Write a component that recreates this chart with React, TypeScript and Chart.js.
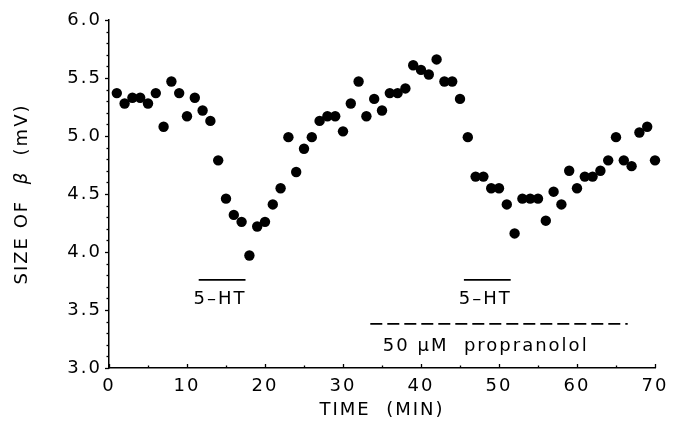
import React, { useEffect, useRef } from 'react';
import { Chart, registerables } from 'chart.js';

Chart.register(...registerables);

// ---- data ----
const minutes = [
  1, 2, 3, 4, 5, 6, 7, 8, 9, 10,
  11, 12, 13, 14, 15, 16, 17, 18, 19, 20,
  21, 22, 23, 24, 25, 26, 27, 28, 29, 30,
  31, 32, 33, 34, 35, 36, 37, 38, 39, 40,
  41, 42, 43, 44, 45, 46, 47, 48, 49, 50,
  51, 52, 53, 54, 55, 56, 57, 58, 59, 60,
  61, 62, 63, 64, 65, 66, 67, 68, 69, 70,
];
const betaSize = [
  5.37, 5.28, 5.33, 5.33, 5.28, 5.37, 5.08, 5.47, 5.37, 5.17,
  5.33, 5.22, 5.13, 4.79, 4.46, 4.32, 4.26, 3.97, 4.22, 4.26,
  4.41, 4.55, 4.99, 4.69, 4.89, 4.99, 5.13, 5.17, 5.17, 5.04,
  5.28, 5.47, 5.17, 5.32, 5.22, 5.37, 5.37, 5.41, 5.61, 5.57,
  5.53, 5.66, 5.47, 5.47, 5.32, 4.99, 4.65, 4.65, 4.55, 4.55,
  4.41, 4.16, 4.46, 4.46, 4.46, 4.27, 4.52, 4.41, 4.70, 4.55,
  4.65, 4.65, 4.70, 4.79, 4.99, 4.79, 4.74, 5.03, 5.08, 4.79,
];

const xTicks = [0, 10, 20, 30, 40, 50, 60, 70];
const yTicks = [3.0, 3.5, 4.0, 4.5, 5.0, 5.5, 6.0];

// application periods (minutes) and annotation levels (mV)
const htPeriods = [
  [11.5, 17.5],
  [45.5, 51.5],
];
const htBarLevel = 3.76;
const htLabelLevel = 3.59;
const htLabel = '5–HT';
const propranololPeriod = [33.5, 66.5];
const propranololLevel = 3.38;
const propranololLabelLevel = 3.19;
const propranololLabelAt = 48.3;
const propranololLabel = '50 μM  propranolol';

const xTitle = 'TIME  (MIN)';
const yTitleParts = [
  { text: 'SIZE OF  ', italic: false },
  { text: 'β', italic: true },
  { text: '  (mV)', italic: false },
];

const FONT_FAMILY = '"DejaVu Sans", sans-serif';
const FONT_SIZE = 18;
const LETTER_SPACING = '2px';

const decorPlugin = {
  id: 'decor',
  beforeDraw(chart: any) {
    chart.ctx.letterSpacing = LETTER_SPACING;
  },
  afterDraw(chart: any) {
    const { ctx, chartArea } = chart;
    const xs = chart.scales.x;
    const ys = chart.scales.y;
    ctx.save();
    ctx.letterSpacing = LETTER_SPACING;
    ctx.strokeStyle = '#000';
    ctx.fillStyle = '#000';
    ctx.lineWidth = 1.3;

    // y minor/major ticks (outward)
    for (let i = 0; i <= 30; i++) {
      const v = 3 + i * 0.1;
      const py = Math.round(ys.getPixelForValue(v)) + 0.5;
      const len = i % 5 === 0 ? 4 : 2.5;
      ctx.beginPath();
      ctx.moveTo(chartArea.left - len, py);
      ctx.lineTo(chartArea.left, py);
      ctx.stroke();
    }
    // x ticks (inward)
    for (let t = 0; t <= 70; t += 5) {
      const px = Math.round(xs.getPixelForValue(t)) + 0.5;
      const len = t % 10 === 0 ? 4 : 2.5;
      ctx.beginPath();
      ctx.moveTo(px, chartArea.bottom);
      ctx.lineTo(px, chartArea.bottom - len);
      ctx.stroke();
    }

    // 5-HT bars and labels
    ctx.lineWidth = 1.6;
    ctx.font = `${FONT_SIZE}px ${FONT_FAMILY}`;
    ctx.textAlign = 'center';
    ctx.textBaseline = 'middle';
    for (const [a, b] of htPeriods) {
      const py = ys.getPixelForValue(htBarLevel);
      ctx.beginPath();
      ctx.moveTo(xs.getPixelForValue(a), py);
      ctx.lineTo(xs.getPixelForValue(b), py);
      ctx.stroke();
      ctx.fillText(htLabel, xs.getPixelForValue((a + b) / 2) - 2, ys.getPixelForValue(htLabelLevel));
    }

    // propranolol dashed line
    ctx.setLineDash([12, 5]);
    ctx.beginPath();
    const pp = ys.getPixelForValue(propranololLevel);
    ctx.moveTo(xs.getPixelForValue(propranololPeriod[0]), pp);
    ctx.lineTo(xs.getPixelForValue(propranololPeriod[1]), pp);
    ctx.stroke();
    ctx.setLineDash([]);
    ctx.fillText(
      propranololLabel,
      xs.getPixelForValue(propranololLabelAt),
      ys.getPixelForValue(propranololLabelLevel)
    );

    // y title (rotated, italic beta)
    const normal = `${FONT_SIZE}px ${FONT_FAMILY}`;
    const ital = `italic ${FONT_SIZE}px ${FONT_FAMILY}`;
    let total = 0;
    const widths = yTitleParts.map((p) => {
      ctx.font = p.italic ? ital : normal;
      const w = ctx.measureText(p.text).width;
      total += w;
      return w;
    });
    ctx.translate(22, (chartArea.top + chartArea.bottom) / 2);
    ctx.rotate(-Math.PI / 2);
    ctx.textAlign = 'left';
    let cx = -total / 2;
    yTitleParts.forEach((p, i) => {
      ctx.font = p.italic ? ital : normal;
      ctx.fillText(p.text, cx, 0);
      cx += widths[i];
    });
    ctx.restore();
  },
};

export default function App() {
  const ref = useRef<HTMLCanvasElement | null>(null);

  useEffect(() => {
    if (!ref.current) return;
    const font = { family: FONT_FAMILY, size: FONT_SIZE };
    const chart = new Chart(ref.current, {
      type: 'scatter',
      data: {
        datasets: [
          {
            data: minutes.map((m, i) => ({ x: m, y: betaSize[i] })),
            backgroundColor: '#000',
            borderColor: '#000',
            borderWidth: 0,
            pointRadius: 5.2,
            pointHoverRadius: 5.2,
            showLine: false,
            clip: false as any,
          },
        ],
      },
      options: {
        animation: false,
        responsive: false,
        devicePixelRatio: 1,
        layout: { padding: { top: 20, right: 26, left: 0, bottom: 0 } },
        plugins: {
          legend: { display: false },
          tooltip: { enabled: false },
        },
        scales: {
          x: {
            type: 'linear',
            min: 0,
            max: 70,
            afterBuildTicks: (s: any) => {
              s.ticks = xTicks.map((v) => ({ value: v }));
            },
            ticks: {
              font,
              color: '#000',
              padding: 4,
              maxRotation: 0,
              autoSkip: false,
            },
            grid: {
              display: true,
              drawOnChartArea: false,
              drawTicks: true,
              tickLength: 4,
              tickColor: 'rgba(0,0,0,0)',
            },
            border: { display: true, color: '#000', width: 1.5 },
            title: {
              display: true,
              text: xTitle,
              font,
              color: '#000',
              padding: { top: 0, bottom: 17 },
            },
            afterFit: (s: any) => {
              s.height = 70;
            },
          },
          y: {
            type: 'linear',
            min: 3,
            max: 6,
            afterBuildTicks: (s: any) => {
              s.ticks = yTicks.map((v) => ({ value: v }));
            },
            ticks: {
              font,
              color: '#000',
              padding: 3,
              callback: (v: any) => Number(v).toFixed(1),
            },
            grid: {
              display: true,
              drawOnChartArea: false,
              drawTicks: true,
              tickLength: 4,
              tickColor: 'rgba(0,0,0,0)',
            },
            border: { display: true, color: '#000', width: 1.5 },
            afterFit: (s: any) => {
              s.width = 109;
            },
          },
        },
      },
      plugins: [decorPlugin],
    });
    return () => chart.destroy();
  }, []);

  return (
    <div style={{ position: 'absolute', left: 0, top: 0, width: 681, height: 438, background: '#fff' }}>
      <canvas ref={ref} width={681} height={438} style={{ display: 'block' }} />
    </div>
  );
}
